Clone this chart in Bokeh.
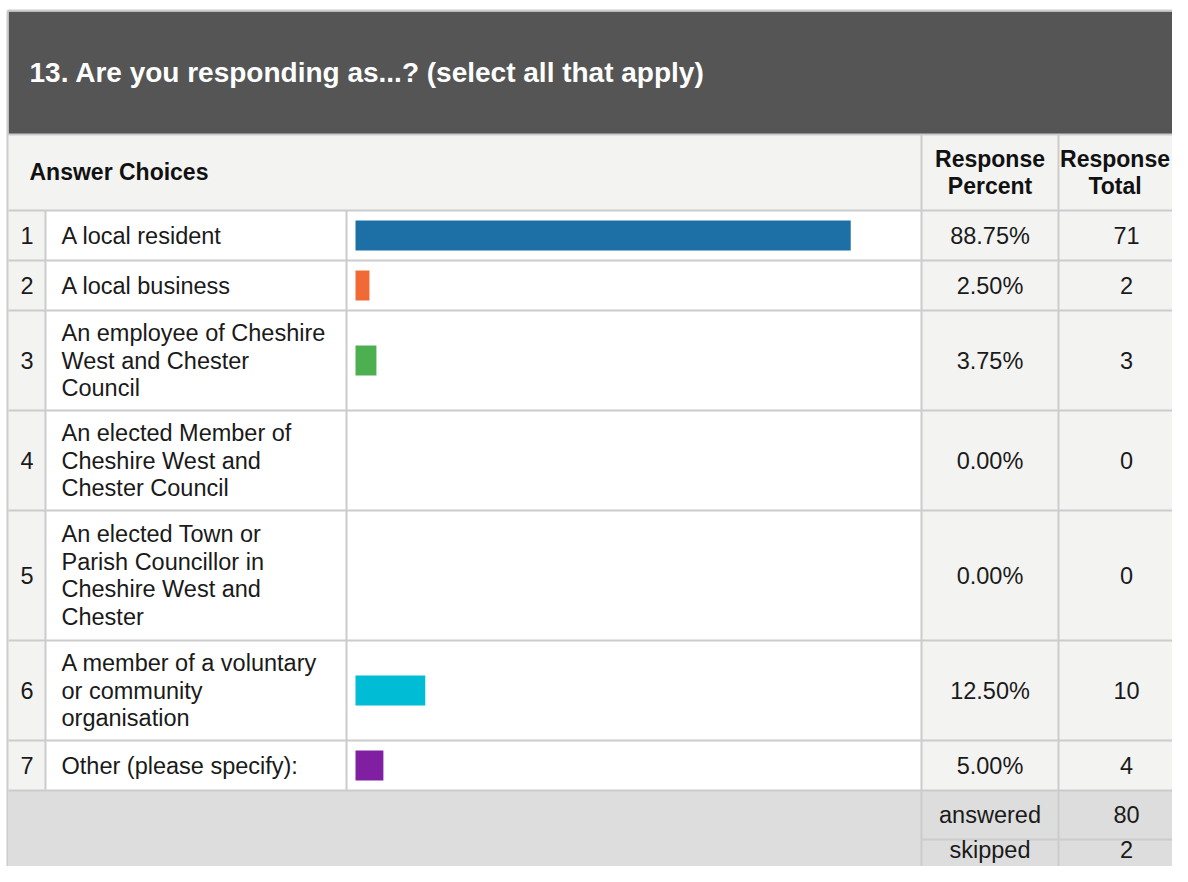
from bokeh.plotting import figure
from bokeh.models import Range1d, ColumnDataSource
from bokeh.core.properties import value
from bokeh.embed import file_html
from bokeh.resources import INLINE

# ---------------- data ----------------
title_text = "13. Are you responding as...? (select all that apply)"
numbers = [1, 2, 3, 4, 5, 6, 7]
choices = [
    "A local resident",
    "A local business",
    "An employee of Cheshire\nWest and Chester\nCouncil",
    "An elected Member of\nCheshire West and\nChester Council",
    "An elected Town or\nParish Councillor in\nCheshire West and\nChester",
    "A member of a voluntary\nor community\norganisation",
    "Other (please specify):",
]
percents = [88.75, 2.50, 3.75, 0.00, 0.00, 12.50, 5.00]
totals = [71, 2, 3, 0, 0, 10, 4]
bar_colors = ["#1d70a6", "#f16a35", "#4caf50", "#ffc107", "#e91e63", "#00bcd4", "#801fa2"]
footer_labels = ["answered", "skipped"]
footer_values = [80, 2]

# ---------------- layout ----------------
W, H = 1172, 866
FONT = "Liberation Sans"
BODY = "23.5px"
HEAD = "23px"
LINE = "#cccccc"
LIGHT = "#f3f3f2"
DARK = "#545554"
FOOT = "#dddddd"
TXT = "#1a1a1a"

x_left, x_num, x_ans, x_bar, x_pct, x_right = 8, 45, 346, 921, 1058, 1180
bar_start_px, px_per_pct = 355, 5.58
title_top, title_bottom = 11, 134
head_bottom = 210
line_gap = 27.8
dy_body = 0.0    # renderer places cap centre near given y
dy_head = -0.5
dy_title = -0.5

p = figure(width=W, height=H, x_range=Range1d(0, W), y_range=Range1d(H, 0),
           output_backend="svg", toolbar_location=None, min_border=0,
           background_fill_color="white", border_fill_color="white")
p.axis.visible = False
p.grid.visible = False
p.outline_line_color = None
p.extra_x_ranges["pct"] = Range1d((0 - bar_start_px) / px_per_pct,
                                  (W - bar_start_px) / px_per_pct)

# row geometry
row_tops, row_bots = [], []
y = head_bottom
for c in choices:
    n = len(c.split("\n"))
    h = max(50, 30 * n + 10)
    row_tops.append(y)
    row_bots.append(y + h)
    y += h
foot_top = y
foot_rows = [(foot_top, foot_top + 49), (foot_top + 49, H)]
foot_text_y = [foot_top + 24, foot_top + 59]

# backgrounds
p.quad(left=[x_left], right=[x_right], top=[title_top], bottom=[title_bottom], color=DARK, line_color=None)
p.quad(left=[x_left], right=[x_right], top=[title_bottom], bottom=[head_bottom], color=LIGHT, line_color=None)
p.quad(left=[x_left] * 7, right=[x_num] * 7, top=row_tops, bottom=row_bots, color=LIGHT, line_color=None)
p.quad(left=[x_bar] * 7, right=[x_right] * 7, top=row_tops, bottom=row_bots, color=LIGHT, line_color=None)
p.quad(left=[x_left], right=[x_right], top=[foot_top], bottom=[foot_rows[-1][1]], color=FOOT, line_color=None)

# grid lines
hx0, hx1, hy = [], [], []
for yy in [title_bottom, head_bottom] + row_bots:
    hx0.append(x_left); hx1.append(x_right); hy.append(yy)
hx0.append(x_bar); hx1.append(x_right); hy.append(foot_rows[0][1])
p.segment(x0=hx0, x1=hx1, y0=hy, y1=hy, line_color=LINE, line_width=2)
vx, vy0, vy1 = [], [], []
for xx in [x_num, x_ans]:
    vx.append(xx); vy0.append(head_bottom); vy1.append(foot_top)
for xx in [x_bar, x_pct]:
    vx.append(xx); vy0.append(title_bottom); vy1.append(foot_rows[-1][1])
p.segment(x0=vx, x1=vx, y0=vy0, y1=vy1, line_color=LINE, line_width=2)
# outer border
p.segment(x0=[7, 7], x1=[7, x_right], y0=[10, 10], y1=[H, 10], line_color=LINE, line_width=2)

# bars
centers = [(a + b) / 2 for a, b in zip(row_tops, row_bots)]
src = ColumnDataSource(dict(y=centers, pct=percents, color=bar_colors))
p.hbar(y="y", left=0, right="pct", height=30, fill_color="color", line_color=None,
       source=src, x_range_name="pct")

# texts
p.text(x=[29], y=[72.5 + dy_title], text=[title_text], text_font=value(FONT), text_font_size="28px",
       text_font_style="bold", text_color="white", text_baseline="alphabetic")
p.text(x=[29], y=[172 + dy_head], text=["Answer Choices"], text_font=value(FONT), text_font_size=HEAD,
       text_font_style="bold", text_color="#111111", text_baseline="alphabetic")
pct_c = (x_bar + x_pct) / 2
tot_head_c = 1114.5
p.text(x=[pct_c, pct_c, tot_head_c, tot_head_c],
       y=[159 + dy_head, 186 + dy_head, 159 + dy_head, 186 + dy_head],
       text=["Response", "Percent", "Response", "Total"],
       text_font=value(FONT), text_font_size=HEAD, text_font_style="bold", text_color="#111111",
       text_align="center", text_baseline="alphabetic")

tx, ty, tt = [], [], []
for c, cy in zip(choices, centers):
    lines = c.split("\n")
    n = len(lines)
    for i, ln in enumerate(lines):
        tx.append(61); ty.append(cy + (i - (n - 1) / 2) * line_gap + dy_body); tt.append(ln)
p.text(x=tx, y=ty, text=tt, text_font=value(FONT), text_font_size=BODY, text_color=TXT,
       text_baseline="alphabetic")

base = [cy + dy_body for cy in centers]
p.text(x=[26.5] * 7, y=base, text=[str(n) for n in numbers], text_font=value(FONT),
       text_font_size=BODY, text_color=TXT, text_align="center", text_baseline="alphabetic")
p.text(x=[pct_c] * 7, y=base, text=[f"{v:.2f}%" for v in percents], text_font=value(FONT),
       text_font_size=BODY, text_color=TXT, text_align="center", text_baseline="alphabetic")
p.text(x=[1126] * 7, y=base, text=[str(v) for v in totals], text_font=value(FONT),
       text_font_size=BODY, text_color=TXT, text_align="center", text_baseline="alphabetic")

fbase = [t + dy_body for t in foot_text_y]
p.text(x=[pct_c] * 2, y=fbase, text=footer_labels, text_font=value(FONT), text_font_size=BODY,
       text_color=TXT, text_align="center", text_baseline="alphabetic")
p.text(x=[1126] * 2, y=fbase, text=[str(v) for v in footer_values], text_font=value(FONT),
       text_font_size=BODY, text_color=TXT, text_align="center", text_baseline="alphabetic")

open("out.html", "w").write(file_html(p, INLINE))
